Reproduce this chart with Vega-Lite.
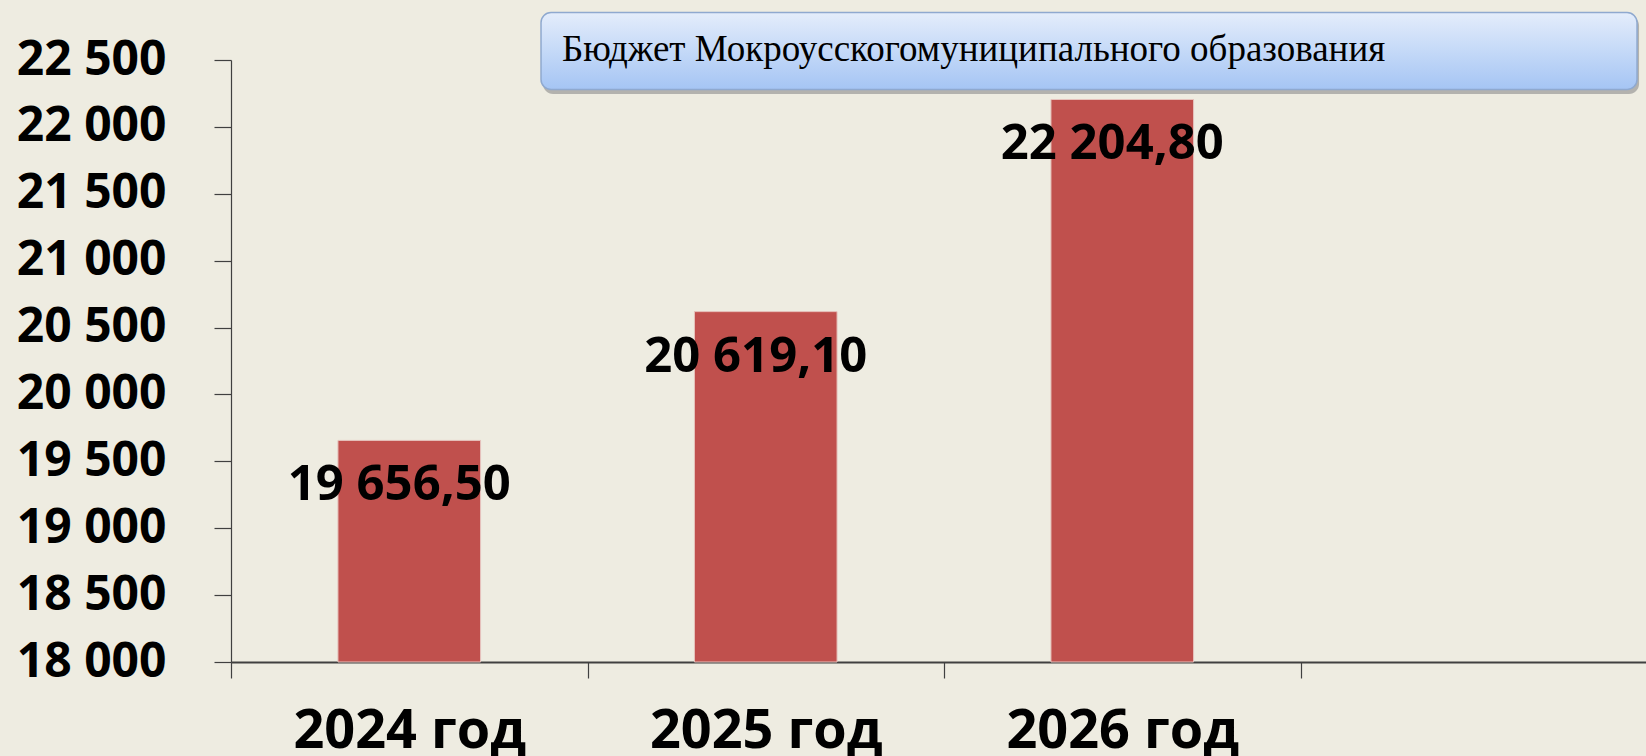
{
  "$schema": "https://vega.github.io/schema/vega-lite/v6.json",
  "width": 1426,
  "height": 602,
  "autosize": {"type": "none"},
  "padding": {"left": 231, "top": 60, "right": -11, "bottom": 94},
  "background": "#eeece1",
  "config": {
    "view": {"stroke": null},
    "locale": {"number": {"decimal": ",", "thousands": " ", "grouping": [3], "currency": ["", ""]}}
  },
  "datasets": {
    "budget": [
      {"year": "2024 год", "value": 19656.5},
      {"year": "2025 год", "value": 20619.1},
      {"year": "2026 год", "value": 22204.8}
    ],
    "heading": [
      {"label": "Бюджет Мокроусскогомуниципального образования"}
    ]
  },
  "layer": [
    {
      "data": {"name": "budget"},
      "encoding": {
        "x": {
          "field": "year",
          "type": "nominal",
          "sort": null,
          "scale": {"domain": ["2024 год", "2025 год", "2026 год", " "], "paddingInner": 0, "paddingOuter": 0},
          "axis": {
            "title": null,
            "labelAngle": 0,
            "labelFont": "Open Sans",
            "labelFontWeight": "bold",
            "labelFontSize": 54,
            "labelColor": "#000000",
            "labelPadding": 26,
            "labelLimit": 0,
            "labelOverlap": false,
            "labelBound": false,
            "tickSize": 16,
            "tickBand": "extent",
            "tickColor": "#404040",
            "tickWidth": 1.2,
            "domainColor": "#404040",
            "domainWidth": 2,
            "grid": false
          }
        },
        "y": {
          "field": "value",
          "type": "quantitative",
          "scale": {"domain": [18000, 22500], "nice": false, "zero": false},
          "axis": {
            "title": null,
            "values": [18000, 18500, 19000, 19500, 20000, 20500, 21000, 21500, 22000, 22500],
            "format": ",d",
            "labelFont": "Open Sans",
            "labelFontWeight": "bold",
            "labelFontSize": 48,
            "labelColor": "#000000",
            "labelPadding": 48,
            "labelLimit": 0,
            "tickSize": 17,
            "tickColor": "#404040",
            "tickWidth": 1.2,
            "domainColor": "#404040",
            "domainWidth": 1.2,
            "grid": false
          }
        }
      },
      "layer": [
        {
          "mark": {"type": "bar", "color": "#c0504d", "stroke": "#e6c3bd", "strokeWidth": 1, "width": {"band": 0.4}},
          "encoding": {"y2": {"datum": 18000}}
        },
        {
          "mark": {"type": "text", "font": "Open Sans", "fontWeight": "bold", "fontSize": 49, "color": "#000000", "dx": -10, "dy": 45, "baseline": "middle", "align": "center"},
          "encoding": {"text": {"field": "value", "type": "quantitative", "format": ",.2f"}}
        }
      ]
    },
    {
      "data": {"name": "heading"},
      "layer": [
        {
          "mark": {"type": "rect", "color": "#8c8c8c", "opacity": 0.6, "cornerRadius": 10},
          "encoding": {
            "x": {"datum": 0.2188, "type": "quantitative", "scale": {"domain": [0, 1], "nice": false, "zero": false}, "axis": null},
            "x2": {"datum": 0.9874},
            "y": {"datum": 22830, "type": "quantitative", "scale": {"domain": [18000, 22500], "nice": false, "zero": false}},
            "y2": {"datum": 22245}
          }
        },
        {
          "mark": {
            "type": "rect",
            "cornerRadius": 10,
            "stroke": "#8fa9cf",
            "strokeWidth": 1.5,
            "fill": {"gradient": "linear", "x1": 0, "y1": 0, "x2": 0, "y2": 1, "stops": [{"offset": 0, "color": "#e4edfb"}, {"offset": 1, "color": "#a5c5f4"}]}
          },
          "encoding": {
            "x": {"datum": 0.2174, "type": "quantitative", "scale": {"domain": [0, 1], "nice": false, "zero": false}, "axis": null},
            "x2": {"datum": 0.986},
            "y": {"datum": 22855, "type": "quantitative", "scale": {"domain": [18000, 22500], "nice": false, "zero": false}},
            "y2": {"datum": 22280}
          }
        },
        {
          "mark": {"type": "text", "font": "Liberation Serif", "fontSize": 37, "color": "#000000", "align": "left", "baseline": "middle"},
          "encoding": {
            "x": {"datum": 0.2321, "type": "quantitative", "scale": {"domain": [0, 1], "nice": false, "zero": false}, "axis": null},
            "y": {"datum": 22575, "type": "quantitative", "scale": {"domain": [18000, 22500], "nice": false, "zero": false}},
            "text": {"field": "label"}
          }
        }
      ]
    }
  ],
  "resolve": {"scale": {"x": "independent"}}
}
